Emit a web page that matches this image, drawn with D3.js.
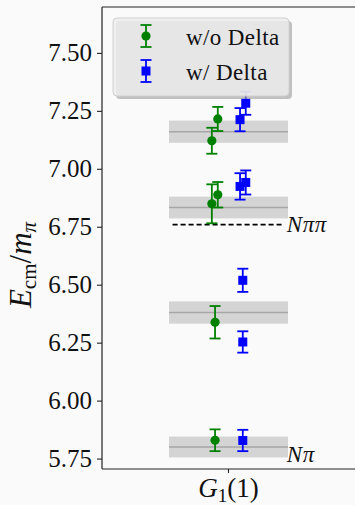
<!DOCTYPE html>
<html>
<head>
<meta charset="utf-8">
<script src="https://cdn.jsdelivr.net/npm/d3@7"></script>
<style>
  body { margin: 0; background: #fafafa; }
  svg { display: block; }
  text { font-family: "Liberation Serif", "Times New Roman", serif; fill: #111; }
</style>
</head>
<body>
<svg id="chart" width="355" height="505"></svg>
<script>
// bands (grey boxes) of the non-interacting levels
var bandCenters = [5.800, 6.380, 6.833, 7.160];
var bandErrors  = [0.045, 0.048, 0.047, 0.048];

// thresholds
var thresholdNames  = ["N\u03c0", "N\u03c0\u03c0"];
var thresholdValues = [5.767, 6.759];

// w/o Delta (green)
var greenValues  = [5.829, 6.338, 6.849, 6.888, 7.121, 7.215];
var greenErrors  = [0.047, 0.070, 0.084, 0.055, 0.056, 0.052];
var greenOffsets = [-0.113, -0.113, -0.14, -0.09, -0.14, -0.09];

// w/ Delta (blue)
var blueValues  = [5.828, 6.253, 6.519, 6.924, 6.941, 7.212, 7.283];
var blueErrors  = [0.046, 0.046, 0.050, 0.057, 0.052, 0.050, 0.050];
var blueOffsets = [0.12, 0.12, 0.12, 0.097, 0.145, 0.097, 0.145];

var yTicks = [5.75, 6.00, 6.25, 6.50, 6.75, 7.00, 7.25, 7.50];

var frame = {left: 102, right: 362, top: 7, bottom: 469};

var svg = d3.select("#chart");

var x = d3.scaleLinear().domain([-0.5, 0.5]).range([169, 288]);
var y = d3.scaleLinear().domain([5.705, 7.698]).range([frame.bottom, frame.top]);

//threshold dashed lines (drawn first so bands sit on top)
svg.append("g").selectAll("line")
    .data(thresholdValues)
    .enter().append("line")
    .attr("x1", x(-0.47)).attr("x2", x(0.47))
    .attr("y1", function (d) { return y(d); })
    .attr("y2", function (d) { return y(d); })
    .attr("stroke", "black")
    .attr("stroke-width", 1.6)
    .attr("stroke-dasharray", "5,3");

//bands
var bands = svg.append("g").selectAll("g")
    .data(bandCenters)
    .enter().append("g");
bands.append("rect")
    .attr("x", x(-0.5))
    .attr("width", x(0.5) - x(-0.5))
    .attr("y", function (d, i) { return y(d + bandErrors[i]); })
    .attr("height", function (d, i) { return y(d - bandErrors[i]) - y(d + bandErrors[i]); })
    .attr("fill", "#d4d4d4");
bands.append("line")
    .attr("x1", x(-0.5)).attr("x2", x(0.5))
    .attr("y1", function (d) { return y(d); })
    .attr("y2", function (d) { return y(d); })
    .attr("stroke", "#a6a6a6")
    .attr("stroke-width", 1.6);

//threshold labels
svg.append("g").selectAll("text")
    .data(thresholdValues)
    .enter().append("text")
    .attr("x", x(0.49))
    .attr("y", function (d) { return y(d) + 7; })
    .attr("font-size", "23px")
    .attr("font-style", "italic")
    .attr("letter-spacing", "0.5px")
    .text(function (d, i) { return thresholdNames[i]; });

//error bar points
function drawSeries(values, errors, offsets, color, shape) {
    var g = svg.append("g");
    var pts = g.selectAll("g").data(values).enter().append("g");
    pts.append("line")
        .attr("x1", function (d, i) { return x(offsets[i]); })
        .attr("x2", function (d, i) { return x(offsets[i]); })
        .attr("y1", function (d, i) { return y(d + errors[i]); })
        .attr("y2", function (d, i) { return y(d - errors[i]); })
        .attr("stroke", color).attr("stroke-width", 1.8);
    [1, -1].forEach(function (s) {
        pts.append("line")
            .attr("x1", function (d, i) { return x(offsets[i]) - 5.5; })
            .attr("x2", function (d, i) { return x(offsets[i]) + 5.5; })
            .attr("y1", function (d, i) { return y(d + s * errors[i]); })
            .attr("y2", function (d, i) { return y(d + s * errors[i]); })
            .attr("stroke", color).attr("stroke-width", 1.8);
    });
    if (shape == "circle") {
        pts.append("circle")
            .attr("cx", function (d, i) { return x(offsets[i]); })
            .attr("cy", function (d) { return y(d); })
            .attr("r", 4.6).attr("fill", color);
    } else {
        pts.append("rect")
            .attr("x", function (d, i) { return x(offsets[i]) - 4.5; })
            .attr("y", function (d) { return y(d) - 4.5; })
            .attr("width", 9).attr("height", 9).attr("fill", color);
    }
}
drawSeries(greenValues, greenErrors, greenOffsets, "green", "circle");
drawSeries(blueValues, blueErrors, blueOffsets, "blue", "square");

//axes frame
var axisG = svg.append("g");
axisG.append("line").attr("x1", frame.left).attr("x2", frame.left)
    .attr("y1", frame.top).attr("y2", frame.bottom).attr("stroke", "#222").attr("stroke-width", 1.2);
axisG.append("line").attr("x1", frame.left).attr("x2", frame.right)
    .attr("y1", frame.top).attr("y2", frame.top).attr("stroke", "#222").attr("stroke-width", 1.2);
axisG.append("line").attr("x1", frame.left).attr("x2", frame.right)
    .attr("y1", frame.bottom).attr("y2", frame.bottom).attr("stroke", "#222").attr("stroke-width", 1.2);

var yAxis = d3.axisLeft(y).tickValues(yTicks).tickFormat(d3.format(".2f"))
    .tickSize(5).tickPadding(5);
var yg = svg.append("g").attr("transform", "translate(" + frame.left + ",0)").call(yAxis);
yg.select(".domain").remove();
yg.selectAll(".tick line").attr("stroke", "#222").attr("stroke-width", 1.1);
yg.selectAll(".tick text")
    .attr("font-family", "Liberation Serif, serif")
    .attr("font-size", "25px")
    .attr("fill", "#111");

// x tick
svg.append("line").attr("x1", x(0)).attr("x2", x(0))
    .attr("y1", frame.bottom).attr("y2", frame.bottom + 4)
    .attr("stroke", "#222").attr("stroke-width", 1.1);

// x label G_1(1)
var xl = svg.append("text").attr("x", x(0)).attr("y", 497)
    .attr("text-anchor", "middle").attr("font-size", "27px");
xl.append("tspan").attr("font-style", "italic").text("G");
xl.append("tspan").attr("font-size", "19px").attr("dy", 5).text("1");
xl.append("tspan").attr("dy", -5).text("(1)");

// y label E_cm / m_pi
var yl = svg.append("text")
    .attr("transform", "translate(31,265) rotate(-90)")
    .attr("text-anchor", "middle").attr("font-size", "31px");
yl.append("tspan").attr("font-style", "italic").text("E");
yl.append("tspan").attr("font-size", "21px").attr("dy", 5).text("cm");
yl.append("tspan").attr("dy", -5).text("/");
yl.append("tspan").attr("font-style", "italic").text("m");
yl.append("tspan").attr("font-size", "21px").attr("font-style", "italic").attr("dy", 5).text("\u03c0");

//legend
var legend = svg.append("g").attr("transform", "translate(113,18)");
legend.append("rect").attr("x", 3).attr("y", 3).attr("width", 176).attr("height", 78)
    .attr("rx", 4).attr("fill", "#999").attr("fill-opacity", 0.6);
legend.append("rect").attr("width", 176).attr("height", 78).attr("rx", 4)
    .attr("fill", "#ececec").attr("fill-opacity", 0.85)
    .attr("stroke", "#d0d0d0").attr("stroke-width", 1);

var legendNames = ["w/o Delta", "w/ Delta"];
var legendColors = ["green", "blue"];
var items = legend.selectAll(".item").data(legendNames).enter().append("g")
    .attr("transform", function (d, i) { return "translate(33," + (18 + i * 35) + ")"; });
items.append("line").attr("x1", 0).attr("x2", 0).attr("y1", -11).attr("y2", 11)
    .attr("stroke", function (d, i) { return legendColors[i]; }).attr("stroke-width", 1.8);
[-11, 11].forEach(function (c) {
    items.append("line").attr("x1", -5.5).attr("x2", 5.5).attr("y1", c).attr("y2", c)
        .attr("stroke", function (d, i) { return legendColors[i]; }).attr("stroke-width", 1.8);
});
items.each(function (d, i) {
    var it = d3.select(this);
    if (i == 0) it.append("circle").attr("r", 4.6).attr("fill", "green");
    else it.append("rect").attr("x", -4.5).attr("y", -4.5).attr("width", 9).attr("height", 9).attr("fill", "blue");
});
items.append("text").attr("x", 40).attr("y", 9).attr("font-size", "23px")
    .attr("letter-spacing", "0.4px")
    .text(function (d) { return d; });
</script>
</body>
</html>
